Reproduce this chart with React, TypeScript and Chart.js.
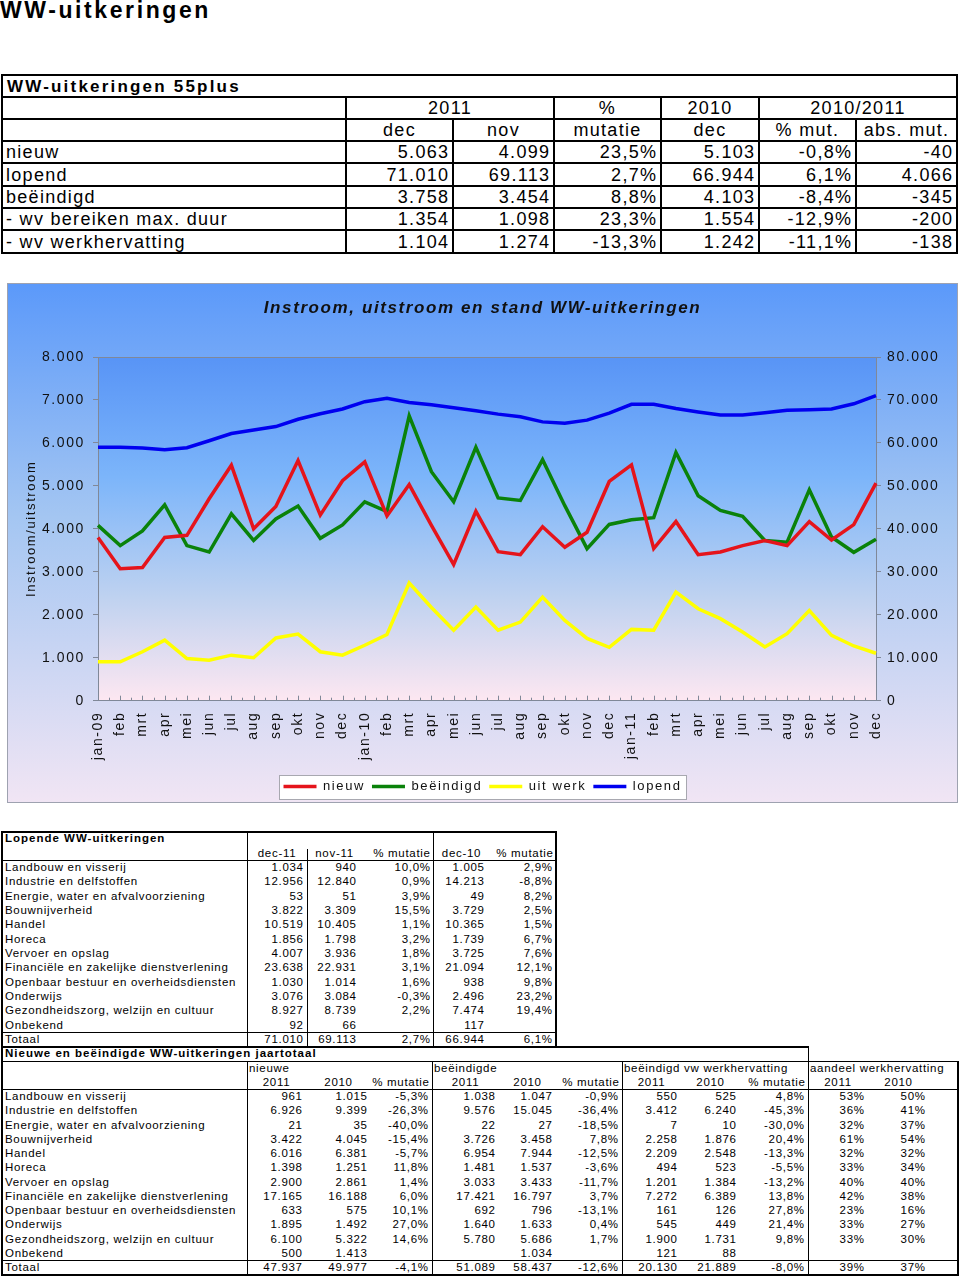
import React, { useEffect, useRef } from "react";
import { Chart, registerables } from "chart.js";

Chart.register(...registerables);

const FONT = "'Liberation Sans', Arial, Helvetica, sans-serif";

// ---------- chart data ----------
const months = [
  "jan-09", "feb", "mrt", "apr", "mei", "jun", "jul", "aug", "sep", "okt", "nov", "dec",
  "jan-10", "feb", "mrt", "apr", "mei", "jun", "jul", "aug", "sep", "okt", "nov", "dec",
  "jan-11", "feb", "mrt", "apr", "mei", "jun", "jul", "aug", "sep", "okt", "nov", "dec",
];
const nieuw = [
  3800, 3070, 3100, 3800, 3850, 4700, 5480, 4000, 4520, 5590, 4320, 5120,
  5560, 4300, 5030, 4080, 3170, 4410, 3470, 3400, 4050, 3570, 3920, 5103,
  5490, 3540, 4170, 3400, 3460, 3610, 3730, 3610, 4170, 3740, 4099, 5063,
];
const beeindigd = [
  4080, 3610, 3950, 4560, 3610, 3460, 4350, 3730, 4230, 4530, 3780, 4090,
  4630, 4400, 6630, 5330, 4630, 5900, 4720, 4660, 5610, 4540, 3540, 4103,
  4210, 4260, 5780, 4770, 4430, 4290, 3730, 3690, 4910, 3810, 3454, 3758,
];
const uitWerk = [
  905, 905, 1140, 1410, 980, 940, 1060, 1000, 1460, 1550, 1140, 1060,
  1290, 1540, 2740, 2170, 1640, 2180, 1640, 1830, 2410, 1870, 1450, 1242,
  1660, 1640, 2530, 2140, 1910, 1600, 1250, 1560, 2100, 1520, 1274, 1104,
];
const lopend = [
  59000, 59000, 58800, 58400, 58900, 60500, 62200, 63000, 63800, 65500, 66800, 67900,
  69600, 70400, 69400, 68900, 68200, 67500, 66700, 66100, 64900, 64600, 65300, 66944,
  69000, 69000, 68000, 67200, 66500, 66500, 67000, 67600, 67700, 67900, 69113, 71010,
];
const seriesLabels = ["nieuw", "beëindigd", "uit werk", "lopend"];
const chartTitle = "Instroom, uitstroom en stand WW-uitkeringen";
const leftAxisTitle = "Instroom/uitstroom";

// ---------- table 1 data ----------
const t1Title = "WW-uitkeringen 55plus";
const t1Head1 = ["2011", "%", "2010", "2010/2011"];
const t1Head2 = ["dec", "nov", "mutatie", "dec", "% mut.", "abs. mut."];
const t1Rows = ["nieuw", "lopend", "beëindigd", "- wv bereiken max. duur", "- wv werkhervatting"];
const t1Dec2011 = ["5.063", "71.010", "3.758", "1.354", "1.104"];
const t1Nov2011 = ["4.099", "69.113", "3.454", "1.098", "1.274"];
const t1Mutatie = ["23,5%", "2,7%", "8,8%", "23,3%", "-13,3%"];
const t1Dec2010 = ["5.103", "66.944", "4.103", "1.554", "1.242"];
const t1PctMut = ["-0,8%", "6,1%", "-8,4%", "-12,9%", "-11,1%"];
const t1AbsMut = ["-40", "4.066", "-345", "-200", "-138"];

// ---------- table 2 data ----------
const sectors = [
  "Landbouw en visserij", "Industrie en delfstoffen", "Energie, water en afvalvoorziening",
  "Bouwnijverheid", "Handel", "Horeca", "Vervoer en opslag",
  "Financiële en zakelijke dienstverlening", "Openbaar bestuur en overheidsdiensten",
  "Onderwijs", "Gezondheidszorg, welzijn en cultuur", "Onbekend", "Totaal",
];
const t2Title = "Lopende WW-uitkeringen";
const t2Head = ["dec-11", "nov-11", "% mutatie", "dec-10", "% mutatie"];
const lopDec11 = ["1.034", "12.956", "53", "3.822", "10.519", "1.856", "4.007", "23.638", "1.030", "3.076", "8.927", "92", "71.010"];
const lopNov11 = ["940", "12.840", "51", "3.309", "10.405", "1.798", "3.936", "22.931", "1.014", "3.084", "8.739", "66", "69.113"];
const lopMut = ["10,0%", "0,9%", "3,9%", "15,5%", "1,1%", "3,2%", "1,8%", "3,1%", "1,6%", "-0,3%", "2,2%", "", "2,7%"];
const lopDec10 = ["1.005", "14.213", "49", "3.729", "10.365", "1.739", "3.725", "21.094", "938", "2.496", "7.474", "117", "66.944"];
const lopMut10 = ["2,9%", "-8,8%", "8,2%", "2,5%", "1,5%", "6,7%", "7,6%", "12,1%", "9,8%", "23,2%", "19,4%", "", "6,1%"];

// ---------- table 3 data ----------
const t3Title = "Nieuwe en beëindigde WW-uitkeringen jaartotaal";
const t3Groups = ["nieuwe", "beëindigde", "beëindigd vw werkhervatting", "aandeel werkhervatting"];
const t3Head = ["2011", "2010", "% mutatie", "2011", "2010", "% mutatie", "2011", "2010", "% mutatie", "2011", "2010"];
const nw2011 = ["961", "6.926", "21", "3.422", "6.016", "1.398", "2.900", "17.165", "633", "1.895", "6.100", "500", "47.937"];
const nw2010 = ["1.015", "9.399", "35", "4.045", "6.381", "1.251", "2.861", "16.188", "575", "1.492", "5.322", "1.413", "49.977"];
const nwMut = ["-5,3%", "-26,3%", "-40,0%", "-15,4%", "-5,7%", "11,8%", "1,4%", "6,0%", "10,1%", "27,0%", "14,6%", "", "-4,1%"];
const be2011 = ["1.038", "9.576", "22", "3.726", "6.954", "1.481", "3.033", "17.421", "692", "1.640", "5.780", "", "51.089"];
const be2010 = ["1.047", "15.045", "27", "3.458", "7.944", "1.537", "3.433", "16.797", "796", "1.633", "5.686", "1.034", "58.437"];
const beMut = ["-0,9%", "-36,4%", "-18,5%", "7,8%", "-12,5%", "-3,6%", "-11,7%", "3,7%", "-13,1%", "0,4%", "1,7%", "", "-12,6%"];
const wh2011 = ["550", "3.412", "7", "2.258", "2.209", "494", "1.201", "7.272", "161", "545", "1.900", "121", "20.130"];
const wh2010 = ["525", "6.240", "10", "1.876", "2.548", "523", "1.384", "6.389", "126", "449", "1.731", "88", "21.889"];
const whMut = ["4,8%", "-45,3%", "-30,0%", "20,4%", "-13,3%", "-5,5%", "-13,2%", "13,8%", "27,8%", "21,4%", "9,8%", "", "-8,0%"];
const aa2011 = ["53%", "36%", "32%", "61%", "32%", "33%", "40%", "42%", "23%", "33%", "33%", "", "39%"];
const aa2010 = ["50%", "41%", "37%", "54%", "32%", "34%", "40%", "38%", "16%", "27%", "30%", "", "37%"];

// ---------- helpers ----------
type Align = "left" | "right" | "center";

function Txt(p: {
  x0: number; x1: number; y0: number; y1: number; text: string;
  align?: Align; pad?: number; size: number; bold?: boolean; ls: number;
}) {
  const align = p.align || "right";
  const pad = p.pad ?? 4;
  return (
    <div
      style={{
        position: "absolute", left: p.x0, top: p.y0, width: p.x1 - p.x0, height: p.y1 - p.y0,
        display: "flex", alignItems: "center",
        justifyContent: align === "left" ? "flex-start" : align === "right" ? "flex-end" : "center",
        paddingLeft: align === "left" ? pad : 0,
        paddingRight: align === "right" ? Math.max(0, pad - p.ls) : 0,
        boxSizing: "border-box", whiteSpace: "nowrap", fontSize: p.size,
        fontWeight: p.bold ? "bold" : "normal", letterSpacing: p.ls + "px",
        fontFamily: FONT, color: "#000", lineHeight: 1, overflow: "visible",
      }}
    >
      {p.text}
    </div>
  );
}

function HL(p: { x0: number; x1: number; y: number; t?: number }) {
  const t = p.t || 1;
  return <div style={{ position: "absolute", left: p.x0, top: Math.round(p.y - t / 2), width: p.x1 - p.x0, height: t, background: "#000" }} />;
}
function VL(p: { x: number; y0: number; y1: number; t?: number }) {
  const t = p.t || 1;
  return <div style={{ position: "absolute", left: Math.round(p.x - t / 2), top: p.y0, width: t, height: p.y1 - p.y0, background: "#000" }} />;
}

function fmt(v: number): string {
  return String(v).replace(/\B(?=(\d{3})+(?!\d))/g, ".");
}

// ---------- table 1 ----------
function Table1() {
  const cols = [2, 346, 453, 554, 661, 759, 856, 957];
  const ys = [75, 97, 119, 141, 163, 186, 208, 230, 253];
  const S = 18, LS = 1.3;
  const els: any[] = [];
  let k = 0;
  els.push(<HL key={k++} x0={1} x1={958} y={ys[0]} t={2} />);
  els.push(<HL key={k++} x0={1} x1={958} y={ys[8]} t={2} />);
  els.push(<VL key={k++} x={cols[0]} y0={ys[0] - 1} y1={ys[8] + 1} t={2} />);
  els.push(<VL key={k++} x={cols[7]} y0={ys[0] - 1} y1={ys[8] + 1} t={2} />);
  for (let i = 1; i < 8; i++) els.push(<HL key={k++} x0={2} x1={957} y={ys[i]} t={2} />);
  [346, 554, 661, 759].forEach((x) => els.push(<VL key={k++} x={x} y0={ys[1]} y1={ys[8]} t={2} />));
  [453, 856].forEach((x) => els.push(<VL key={k++} x={x} y0={ys[2]} y1={ys[8]} t={2} />));

  els.push(<Txt key={k++} x0={2} x1={957} y0={ys[0]} y1={ys[1]} text={t1Title} align="left" pad={5} size={17} bold ls={2.2} />);
  const h1Spans = [[1, 3], [3, 4], [4, 5], [5, 7]];
  h1Spans.forEach(([a, b], i) =>
    els.push(<Txt key={k++} x0={cols[a]} x1={cols[b]} y0={ys[1]} y1={ys[2]} text={t1Head1[i]} align="center" size={S} ls={LS} />)
  );
  t1Head2.forEach((h, i) =>
    els.push(<Txt key={k++} x0={cols[i + 1]} x1={cols[i + 2]} y0={ys[2]} y1={ys[3]} text={h} align="center" size={S} ls={LS} />)
  );
  const colsData = [t1Dec2011, t1Nov2011, t1Mutatie, t1Dec2010, t1PctMut, t1AbsMut];
  t1Rows.forEach((r, ri) => {
    const y0 = ys[ri + 3], y1 = ys[ri + 4];
    els.push(<Txt key={k++} x0={cols[0]} x1={cols[1]} y0={y0} y1={y1} text={r} align="left" pad={4} size={S} ls={LS} />);
    colsData.forEach((arr, ci) =>
      els.push(<Txt key={k++} x0={cols[ci + 1]} x1={cols[ci + 2]} y0={y0} y1={y1} text={arr[ri]} align="right" pad={5} size={S} ls={LS} />)
    );
  });
  return <>{els}</>;
}

// ---------- table 2 ----------
function Table2() {
  const cols = [2, 247, 307, 362, 433, 490, 556];
  const y0 = 832, h = (1047 - 832) / 15;
  const ry = (i: number) => y0 + i * h;
  const S = 11.5, LS = 0.7;
  const els: any[] = [];
  let k = 0;
  els.push(<HL key={k++} x0={1} x1={557} y={832} t={2} />);
  els.push(<VL key={k++} x={2} y0={831} y1={1048} t={2} />);
  els.push(<VL key={k++} x={556} y0={831} y1={1048} t={2} />);
  els.push(<HL key={k++} x0={2} x1={556} y={ry(2)} />);
  els.push(<HL key={k++} x0={2} x1={556} y={ry(14)} />);
  els.push(<VL key={k++} x={247} y0={832} y1={1047} />);
  els.push(<VL key={k++} x={433} y0={832} y1={1047} />);
  els.push(<VL key={k++} x={307} y0={ry(1) + 3} y1={1047} />);

  els.push(<Txt key={k++} x0={2} x1={247} y0={ry(0)} y1={ry(1)} text={t2Title} align="left" pad={3} size={S} bold ls={1} />);
  const hAlign: Align[] = ["center", "center", "right", "center", "right"];
  t2Head.forEach((t, i) =>
    els.push(<Txt key={k++} x0={cols[i + 1]} x1={cols[i + 2]} y0={ry(1)} y1={ry(2)} text={t} align={hAlign[i]} pad={3} size={S} ls={LS} />)
  );
  const data = [lopDec11, lopNov11, lopMut, lopDec10, lopMut10];
  const pads = [4, 6, 3, 6, 4];
  sectors.forEach((s, ri) => {
    const a = ry(ri + 2), b = ry(ri + 3);
    els.push(<Txt key={k++} x0={2} x1={247} y0={a} y1={b} text={s} align="left" pad={3} size={S} ls={LS} />);
    data.forEach((arr, ci) =>
      els.push(<Txt key={k++} x0={cols[ci + 1]} x1={cols[ci + 2]} y0={a} y1={b} text={arr[ri]} align="right" pad={pads[ci]} size={S} ls={LS} />)
    );
  });
  return <>{els}</>;
}

// ---------- table 3 ----------
function Table3() {
  const cols = [2, 247, 306, 371, 432, 499, 556, 622, 681, 740, 808, 868, 929, 958];
  const y0 = 1047, h = (1275 - 1047) / 16;
  const ry = (i: number) => y0 + i * h;
  const S = 11.5, LS = 0.7;
  const els: any[] = [];
  let k = 0;
  els.push(<HL key={k++} x0={1} x1={809} y={1047} t={2} />);
  els.push(<VL key={k++} x={808} y0={1047} y1={1275} />);
  els.push(<VL key={k++} x={2} y0={1047} y1={1276} t={2} />);
  els.push(<VL key={k++} x={958} y0={ry(1)} y1={1276} t={2} />);
  els.push(<HL key={k++} x0={2} x1={958} y={ry(1)} />);
  els.push(<HL key={k++} x0={2} x1={958} y={ry(3)} />);
  els.push(<HL key={k++} x0={2} x1={958} y={ry(15)} />);
  els.push(<HL key={k++} x0={1} x1={959} y={1275} t={2} />);
  [247, 432, 622].forEach((x) => els.push(<VL key={k++} x={x} y0={ry(1)} y1={1275} />));

  els.push(<Txt key={k++} x0={2} x1={808} y0={ry(0)} y1={ry(1)} text={t3Title} align="left" pad={3} size={S} bold ls={1} />);
  const gStarts = [247, 432, 622, 808];
  t3Groups.forEach((g, i) =>
    els.push(<Txt key={k++} x0={gStarts[i]} x1={gStarts[i] + 200} y0={ry(1)} y1={ry(2)} text={g} align="left" pad={2} size={S} ls={LS} />)
  );
  t3Head.forEach((t, i) =>
    els.push(<Txt key={k++} x0={cols[i + 1]} x1={cols[i + 2]} y0={ry(2)} y1={ry(3)} text={t} align={t.startsWith("%") ? "right" : "center"} pad={3} size={S} ls={LS} />)
  );
  const data = [nw2011, nw2010, nwMut, be2011, be2010, beMut, wh2011, wh2010, whMut, aa2011, aa2010];
  sectors.forEach((s, ri) => {
    const a = ry(ri + 3), b = ry(ri + 4);
    els.push(<Txt key={k++} x0={2} x1={247} y0={a} y1={b} text={s} align="left" pad={3} size={S} ls={LS} />);
    data.forEach((arr, ci) =>
      els.push(<Txt key={k++} x0={cols[ci + 1]} x1={cols[ci + 2]} y0={a} y1={b} text={arr[ri]} align="right" pad={4} size={S} ls={LS} />)
    );
  });
  return <>{els}</>;
}

// ---------- chart ----------
const LETTER = "1.6px";
const decor = {
  id: "decor",
  beforeUpdate(c: any) { c.ctx.letterSpacing = LETTER; },
  beforeLayout(c: any) { c.ctx.letterSpacing = LETTER; },
  beforeDraw(c: any) {
    const ctx = c.ctx;
    ctx.letterSpacing = LETTER;
    const { width, height, chartArea: a } = c;
    ctx.save();
    let g = ctx.createLinearGradient(0, 0, 0, height);
    g.addColorStop(0, "#5b99fa");
    g.addColorStop(0.45, "#a4c6f2");
    g.addColorStop(1, "#f1e5f4");
    ctx.fillStyle = g;
    ctx.fillRect(0, 0, width, height);
    g = ctx.createLinearGradient(0, a.top, 0, a.bottom);
    g.addColorStop(0, "#5894f6");
    g.addColorStop(0.35, "#7cb5fa");
    g.addColorStop(0.7, "#bfd2f0");
    g.addColorStop(1, "#fde7f1");
    ctx.fillStyle = g;
    ctx.fillRect(a.left, a.top, a.right - a.left, a.bottom - a.top);
    ctx.strokeStyle = "#808898";
    ctx.lineWidth = 1;
    ctx.beginPath();
    ctx.moveTo(a.left, Math.round(a.top) + 0.5);
    ctx.lineTo(a.right, Math.round(a.top) + 0.5);
    ctx.stroke();
    // small tick marks along the bottom axis
    const xs = c.scales.x;
    ctx.beginPath();
    for (let i = 0; i < months.length; i++) {
      const px = xs.getPixelForValue(i);
      ctx.moveTo(Math.round(px) + 0.5, a.bottom);
      ctx.lineTo(Math.round(px) + 0.5, a.bottom - 5);
      if (i < months.length - 1) {
        const mid = (px + xs.getPixelForValue(i + 1)) / 2;
        ctx.moveTo(Math.round(mid) + 0.5, a.bottom);
        ctx.lineTo(Math.round(mid) + 0.5, a.bottom - 3);
      }
    }
    ctx.stroke();
    // outer border
    ctx.strokeStyle = "#9ea2b0";
    ctx.strokeRect(0.5, 0.5, width - 1, height - 1);
    // legend box
    const hb = c.legend && c.legend.legendHitBoxes;
    if (hb && hb.length) {
      let l = Infinity, r = -Infinity, t = Infinity, b = -Infinity;
      hb.forEach((h: any) => {
        l = Math.min(l, h.left); r = Math.max(r, h.left + h.width);
        t = Math.min(t, h.top); b = Math.max(b, h.top + h.height);
      });
      const bx = Math.round(l - 5), by = Math.round(t - 5.5);
      const bw = Math.round(r - l + 9), bh = Math.round(b - t + 11);
      ctx.fillStyle = "#ffffff";
      ctx.fillRect(bx, by, bw, bh);
      ctx.strokeStyle = "#a8a8b0";
      ctx.strokeRect(bx + 0.5, by + 0.5, bw, bh);
    }
    ctx.restore();
  },
};

function ChartBox() {
  const ref = useRef<HTMLCanvasElement>(null);
  useEffect(() => {
    const canvas = ref.current;
    if (!canvas) return;
    Chart.defaults.font.family = FONT;
    const axisColor = "#808898";
    const textColor = "#111";
    const chart = new Chart(canvas, {
      type: "line",
      data: {
        labels: months,
        datasets: [
          { label: seriesLabels[0], data: nieuw, borderColor: "#e5141b", backgroundColor: "#e5141b", borderWidth: 3.5, pointRadius: 0, yAxisID: "y", tension: 0 },
          { label: seriesLabels[1], data: beeindigd, borderColor: "#0a820a", backgroundColor: "#0a820a", borderWidth: 3.5, pointRadius: 0, yAxisID: "y", tension: 0 },
          { label: seriesLabels[2], data: uitWerk, borderColor: "#ffff00", backgroundColor: "#ffff00", borderWidth: 3.5, pointRadius: 0, yAxisID: "y", tension: 0 },
          { label: seriesLabels[3], data: lopend, borderColor: "#0000f0", backgroundColor: "#0000f0", borderWidth: 3.5, pointRadius: 0, yAxisID: "y1", tension: 0 },
        ],
      },
      options: {
        responsive: false,
        animation: false,
        devicePixelRatio: 1,
        layout: { padding: 0 },
        plugins: {
          title: {
            display: true, text: chartTitle, color: textColor,
            font: { size: 17, weight: "bold", style: "italic" },
            padding: { top: 15.3, bottom: 38.3 },
          },
          legend: {
            position: "bottom",
            labels: {
              usePointStyle: true, pointStyle: "line", boxWidth: 33, pointStyleWidth: 33,
              font: { size: 13 }, color: textColor, padding: 7,
            },
          },
          tooltip: { enabled: false },
        },
        scales: {
          x: {
            type: "category",
            offset: false,
            ticks: { autoSkip: false, maxRotation: 90, minRotation: 90, font: { size: 14 }, color: textColor, padding: 11 },
            grid: { display: false, drawTicks: false },
            border: { display: true, color: axisColor },
            afterFit: (s: any) => { s.height = 72.3; },
          },
          y: {
            position: "left", min: 0, max: 8000,
            ticks: { stepSize: 1000, callback: (v: any) => fmt(Number(v)), font: { size: 14 }, color: textColor, padding: 8 },
            grid: { display: true, drawOnChartArea: false, drawTicks: true, tickLength: 5, color: axisColor },
            border: { display: true, color: axisColor },
            title: { display: true, text: leftAxisTitle, font: { size: 13 }, color: textColor, padding: { top: 17, bottom: 0 } },
            afterFit: (s: any) => { s.width = 91; },
          },
          y1: {
            position: "right", min: 0, max: 80000,
            ticks: { stepSize: 10000, callback: (v: any) => fmt(Number(v)), font: { size: 14 }, color: textColor, padding: 6 },
            grid: { display: true, drawOnChartArea: false, drawTicks: true, tickLength: 5, color: axisColor },
            border: { display: true, color: axisColor },
            afterFit: (s: any) => { s.width = 82; },
          },
        },
      } as any,
      plugins: [decor as any],
    });
    return () => chart.destroy();
  }, []);
  return (
    <canvas
      ref={ref}
      width={951}
      height={520}
      style={{ position: "absolute", left: 7, top: 283, width: 951, height: 520 }}
    />
  );
}

export default function App() {
  return (
    <div style={{ position: "absolute", left: 0, top: 0, width: 960, height: 1278, background: "#fff", fontFamily: FONT, overflow: "hidden" }}>
      <div style={{ position: "absolute", left: 0, top: -2, fontSize: 23, fontWeight: "bold", letterSpacing: "2.6px", lineHeight: "24px", fontFamily: FONT, whiteSpace: "nowrap" }}>
        WW-uitkeringen
      </div>
      <Table1 />
      <ChartBox />
      <Table2 />
      <Table3 />
    </div>
  );
}
